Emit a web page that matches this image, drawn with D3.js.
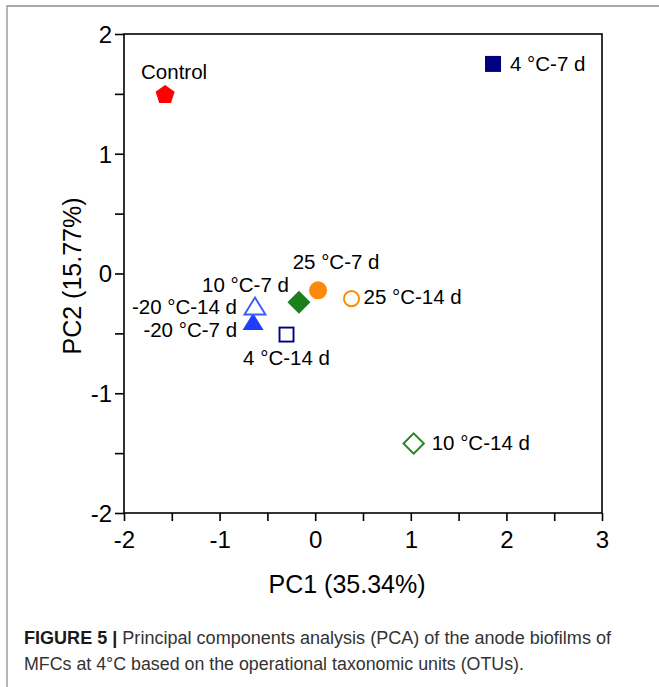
<!DOCTYPE html>
<html>
<head>
<meta charset="utf-8">
<script src="https://cdn.jsdelivr.net/npm/d3@7"></script>
<style>
  html, body { margin: 0; padding: 0; background: #fff; }
  svg { display: block; }
  text { font-family: "Liberation Sans", Arial, sans-serif; }
</style>
</head>
<body>
<div id="chart"></div>
<script>
// sample names and PCA scores
const samples = ["Control", "4 °C-7 d", "4 °C-14 d", "10 °C-7 d", "10 °C-14 d",
                 "25 °C-7 d", "25 °C-14 d", "-20 °C-7 d", "-20 °C-14 d"];
const pc1 = [-1.57, 1.86, -0.30, -0.17, 1.03, 0.03, 0.38, -0.65, -0.63];
const pc2 = [1.50, 1.75, -0.51, -0.24, -1.42, -0.14, -0.21, -0.41, -0.28];

const xTicks = [-2, -1, 0, 1, 2, 3];
const yTicks = [-2, -1, 0, 1, 2];
const xTitle = "PC1 (35.34%)";
const yTitle = "PC2 (15.77%)";

// marker look for each sample (same order as above)
const shapes = ["pentagon", "square", "square", "diamond", "diamond",
                "circle", "circle", "triangle", "triangle"];
const colors = ["#ff0000", "#000080", "#000080", "#1b7f1b", "#1b8a1b",
                "#fb8a0c", "#fb8a0c", "#1f3dff", "#3c5aff"];
const filled = [true, true, false, true, false, true, false, true, false];
// label placement relative to the marker: [dx, dy, anchor]
const labelPos = [[9, -15, "middle"], [17, 7, "start"], [0, 30, "middle"],
                  [-10, -10, "end"], [18, 6, "start"], [18, -21, "middle"],
                  [12, 5, "start"], [-16, 14, "end"], [-18, 7, "end"]];

const W = 659, H = 687;
const mLeft = 124, mRight = 602, mTop = 34, mBottom = 513;

const svg = d3.select("#chart").append("svg")
  .attr("width", W)
  .attr("height", H);

// outer figure frame (open on right / bottom, cropped)
svg.append("path")
  .attr("d", `M7,${H + 5} V6 H${W + 5}`)
  .attr("fill", "none")
  .attr("stroke", "#8f8f8f")
  .attr("stroke-width", 1.3);

const x = d3.scaleLinear().domain([-2, 3]).range([mLeft, mRight]);
const y = d3.scaleLinear().domain([-2, 2]).range([mBottom, mTop]);

// plot box
svg.append("rect")
  .attr("x", mLeft).attr("y", mTop)
  .attr("width", mRight - mLeft).attr("height", mBottom - mTop)
  .attr("fill", "none")
  .attr("stroke", "#000")
  .attr("stroke-width", 1.6);

// tick labels use a plain hyphen like the original
const tickFmt = list => d => list.includes(d) ? String(d) : "";

// Add X axis
const xAxis = svg.append("g")
  .attr("transform", "translate(0," + mBottom + ")")
  .call(d3.axisBottom(x).tickValues(d3.range(-2, 3.01, 0.5)).tickSize(8)
    .tickFormat(tickFmt(xTicks)));

// Add Y axis
const yAxis = svg.append("g")
  .attr("transform", "translate(" + mLeft + ",0)")
  .call(d3.axisLeft(y).tickValues(d3.range(-2, 2.01, 0.5)).tickSize(9)
    .tickFormat(tickFmt(yTicks)));

[xAxis, yAxis].forEach(a => {
  a.select(".domain").remove();
  a.selectAll("line").attr("stroke", "#000").attr("stroke-width", 1.6);
  a.selectAll("text")
    .attr("fill", "#000")
    .style("font-size", "24px")
    .style("font-family", "'Liberation Sans', Arial, sans-serif");
});
xAxis.selectAll("text").attr("y", 18);
yAxis.selectAll("text").attr("x", -12).attr("dy", "0.35em");

// axis titles
svg.append("text")
  .attr("x", 347).attr("y", 593)
  .attr("text-anchor", "middle")
  .style("font-size", "25px")
  .text(xTitle);

svg.append("text")
  .attr("transform", "translate(81,276) rotate(-90)")
  .attr("text-anchor", "middle")
  .style("font-size", "25px")
  .text(yTitle);

// marker paths
function pentagon(r) {
  const p = d3.path();
  for (let i = 0; i < 5; i++) {
    const a = -Math.PI / 2 + i * 2 * Math.PI / 5;
    const px = r * Math.cos(a), py = r * Math.sin(a) + 1;
    i === 0 ? p.moveTo(px, py) : p.lineTo(px, py);
  }
  p.closePath();
  return p.toString();
}

const pts = samples.map((s, i) => ({ name: s, pc1: pc1[i], pc2: pc2[i], i }));

const marks = svg.append("g");
marks.selectAll("g.pt")
  .data(pts)
  .enter()
  .append("g")
  .attr("class", "pt")
  .attr("transform", d => `translate(${x(d.pc1)},${y(d.pc2)})`)
  .each(function (d) {
    const g = d3.select(this);
    const shape = shapes[d.i], col = colors[d.i], f = filled[d.i];
    let el;
    if (shape === "circle") {
      el = g.append("circle").attr("r", f ? 9 : 7.6);
    } else if (shape === "square") {
      const h = f ? 8 : 7;
      el = g.append("rect").attr("x", -h).attr("y", -h).attr("width", 2 * h).attr("height", 2 * h);
    } else if (shape === "diamond") {
      const h = f ? 11.5 : 10.2;
      el = g.append("path").attr("d", `M0,${-h}L${h},0L0,${h}L${-h},0Z`);
    } else if (shape === "triangle") {
      el = g.append("path").attr("d", "M0,-9.5L10.5,7.5L-10.5,7.5Z");
    } else {
      el = g.append("path").attr("d", pentagon(10));
    }
    if (f) el.attr("fill", col).attr("stroke", "none");
    else el.attr("fill", "#fff").attr("stroke", col).attr("stroke-width", 1.9);
  });

// point labels
marks.selectAll("text.lbl")
  .data(pts)
  .enter()
  .append("text")
  .attr("class", "lbl")
  .attr("x", d => x(d.pc1) + labelPos[d.i][0])
  .attr("y", d => y(d.pc2) + labelPos[d.i][1])
  .attr("text-anchor", d => labelPos[d.i][2])
  .style("font-size", "20.5px")
  .attr("fill", "#000")
  .text(d => d.name);

// caption
const cap = svg.append("g")
  .style("font-family", "'Liberation Sans Narrow', 'Roboto', sans-serif")
  .style("font-size", "17.5px")
  .attr("fill", "#333");

const c1 = cap.append("text")
  .attr("x", 24).attr("y", 644)
  .attr("textLength", 587).attr("lengthAdjust", "spacingAndGlyphs");
c1.append("tspan").style("font-weight", "bold").attr("fill", "#1a1a1a").text("FIGURE 5 | ");
c1.append("tspan").text("Principal components analysis (PCA) of the anode biofilms of");

cap.append("text")
  .attr("x", 24).attr("y", 670)
  .attr("textLength", 500).attr("lengthAdjust", "spacingAndGlyphs")
  .text("MFCs at 4°C based on the operational taxonomic units (OTUs).");
</script>
</body>
</html>
